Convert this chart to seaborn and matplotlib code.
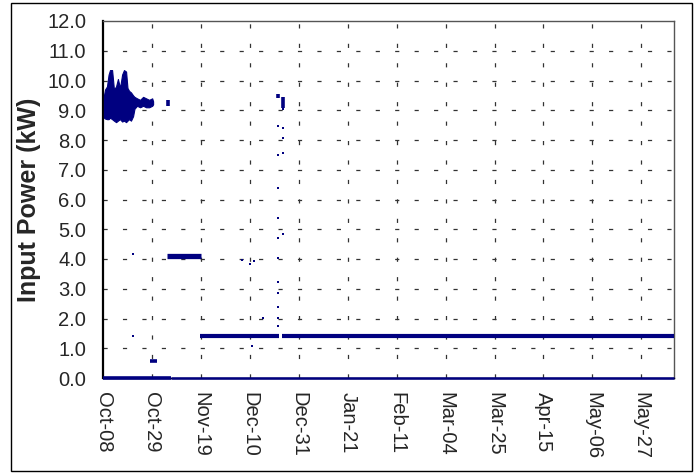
import numpy as np
import pandas as pd
import matplotlib
matplotlib.use("Agg")
import matplotlib.pyplot as plt
import matplotlib.dates as mdates
from matplotlib.ticker import MultipleLocator, FormatStrFormatter, FixedLocator
import seaborn as sns

# ---------------- data ----------------
start_date = "2006-10-08"
xtick_labels = ["Oct-08", "Oct-29", "Nov-19", "Dec-10", "Dec-31", "Jan-21",
                "Feb-11", "Mar-04", "Mar-25", "Apr-15", "May-06", "May-27"]
span_days = 245

# dense high-power cluster (days after start, upper / lower envelope, kW)
cluster_day = [0.4, 0.9, 1.7, 2.4, 3.0, 3.9, 4.7, 5.6, 6.4, 7.3, 8.2, 9.0, 9.9,
               10.5, 11.2, 12.0, 12.9, 13.5, 14.6, 15.9, 17.2, 18.5, 19.8, 21.1, 21.5]
cluster_hi = [9.5, 9.7, 9.8, 10.2, 10.35, 10.35, 9.7, 9.8, 10.05, 9.75, 10.2, 10.35, 10.3,
              9.75, 9.65, 9.6, 9.5, 9.45, 9.4, 9.35, 9.45, 9.4, 9.35, 9.4, 9.3]
cluster_lo = [8.75, 8.72, 8.7, 8.7, 8.75, 8.7, 8.65, 8.6, 8.65, 8.7, 8.62, 8.65, 8.6,
              8.65, 8.7, 8.65, 8.8, 9.05, 9.15, 9.1, 9.15, 9.1, 9.1, 9.15, 9.2]

# steady bands (kW level, start day, end day)
band_level = [0.57, 4.10, 1.42, 1.42]
band_start = [20.2, 27.5, 41.7, 76.6]
band_end = [23.2, 42.0, 75.6, 245.0]

# zero-power baseline (start day, end day)
zero_start = [0.0, 29.0]
zero_end = [29.0, 245.0]

# short vertical blobs (day, low kW, high kW)
blob_day = [28.0, 75.3, 77.4]
blob_lo = [9.15, 9.40, 9.07]
blob_hi = [9.35, 9.55, 9.45]

# isolated readings (day, kW)
dot_day = [12.9, 12.9, 59.8, 63.0, 65.0, 68.5, 64.0,
           75.3, 75.3, 75.3, 75.3, 75.3, 75.3, 75.3, 75.3, 75.3, 75.3, 75.3,
           77.4, 77.4, 77.4, 77.4, 77.4]
dot_kw = [4.17, 1.41, 3.97, 3.83, 3.93, 2.02, 1.08,
          8.47, 7.50, 6.39, 5.38, 4.70, 4.03, 3.23, 2.86, 2.39, 2.02, 1.75,
          9.04, 8.40, 8.07, 7.56, 4.84]

# ---------------- helpers ----------------
t0 = mdates.date2num(pd.Timestamp(start_date))
def d(days):
    return t0 + np.asarray(days, dtype=float)

NAVY = "#000080"
FS = 14.5

sns.set_style("white")
plt.rcParams["font.family"] = ["Liberation Sans", "DejaVu Sans"]
plt.rcParams["lines.scale_dashes"] = False

fig = plt.figure(figsize=(6.96, 4.74), dpi=100)
ax = fig.add_axes([103 / 696, 1 - 378 / 474, (674 - 103) / 696, (378 - 21) / 474])

# figure border
fig.patches.append(plt.Rectangle((11 / 696, 3 / 474), (692 - 11) / 696, (471 - 3) / 474,
                                 transform=fig.transFigure, fill=False,
                                 edgecolor="black", linewidth=1.0, zorder=0))

# cluster
ax.fill_between(d(cluster_day), cluster_lo, cluster_hi, color=NAVY, linewidth=0.8,
                edgecolor=NAVY, zorder=3)

# bands
band_lw = [2.6, 3.8, 3.0, 3.0]
for lvl, s, e, lw in zip(band_level, band_start, band_end, band_lw):
    ax.plot(d([s, e]), [lvl, lvl], color=NAVY, linewidth=lw,
            solid_capstyle="butt", zorder=3)

# baseline
zero_lw = [2.6, 1.8]
for s, e, lw in zip(zero_start, zero_end, zero_lw):
    ax.plot(d([s, e]), [0, 0], color=NAVY, linewidth=lw, solid_capstyle="butt",
            zorder=6, clip_on=False)

# blobs
ax.vlines(d(blob_day), blob_lo, blob_hi, color=NAVY, linewidth=2.6, zorder=3)

# dots
dots = pd.DataFrame({"date": d(dot_day), "kw": dot_kw})
sns.scatterplot(data=dots, x="date", y="kw", ax=ax, color=NAVY, marker="s",
                s=4, linewidth=0, zorder=4)

# axes
ax.set_xlim(d(0), d(span_days))
ax.set_ylim(0, 12)
major_x = d(np.arange(0, 12) * 21)
ax.xaxis.set_major_locator(FixedLocator(major_x))
ax.set_xticklabels(xtick_labels)
ax.xaxis.set_minor_locator(FixedLocator(d(np.arange(0, span_days + 1, 7))))
ax.yaxis.set_major_locator(MultipleLocator(1.0))
ax.yaxis.set_major_formatter(FormatStrFormatter("%.1f"))

ax.tick_params(axis="x", which="both", direction="in", length=5, width=1,
               color="black", labelsize=FS, pad=10, labelrotation=-90)
ax.tick_params(axis="y", which="major", direction="out", length=6, width=1,
               color="black", labelsize=FS, pad=6)
for lab in ax.get_xticklabels():
    lab.set_va("top")
    lab.set_ha("center")

ax.set_xlabel("")
ax.set_ylabel("Input Power (kW)", fontsize=18, fontweight="bold")
ax.yaxis.label.set_va("center")
ax.yaxis.set_label_coords(-0.13, 0.5)

# grid
ax.grid(False)
for xv in major_x[1:]:
    ax.axvline(xv, color="#333333", linewidth=0.9, dashes=(3, 11), zorder=1)
for yv in np.arange(1, 12):
    ax.axhline(yv, color="#333333", linewidth=0.9, dashes=(3, 11), zorder=1)

for side in ["top", "right"]:
    ax.spines[side].set_visible(True)
    ax.spines[side].set_color("#555555")
    ax.spines[side].set_linewidth(1.0)
ax.spines["left"].set_color("black")
ax.spines["left"].set_linewidth(1.6)
ax.spines["bottom"].set_color("black")
ax.spines["bottom"].set_linewidth(1.0)

fig.savefig("out.png", dpi=100)
